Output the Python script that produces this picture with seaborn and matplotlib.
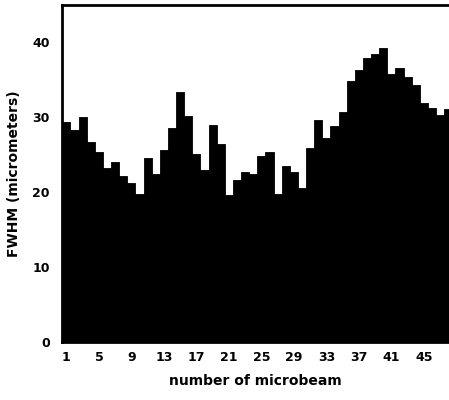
import matplotlib
matplotlib.use("Agg")
import matplotlib.pyplot as plt
import seaborn as sns
import pandas as pd

beam = list(range(1, 49))
fwhm = [29.4, 28.3, 30.0, 26.7, 25.4, 23.2, 24.0, 22.2, 21.2, 19.8,
        24.6, 22.5, 25.6, 28.6, 33.4, 30.2, 25.1, 23.0, 29.0, 26.4,
        19.6, 21.7, 22.7, 22.5, 24.9, 25.4, 19.8, 23.5, 22.7, 20.6,
        25.9, 29.7, 27.2, 28.8, 30.7, 34.9, 36.3, 37.9, 38.5, 39.2,
        35.8, 36.6, 35.4, 34.3, 31.9, 31.2, 30.3, 31.1]
xticks = list(range(1, 46, 4))
yticks = [0, 10, 20, 30, 40]

sns.set_style("white")
plt.rcParams['font.family'] = ['DejaVu Sans']
plt.rcParams['text.color'] = 'black'
plt.rcParams['axes.labelcolor'] = 'black'
plt.rcParams['xtick.color'] = 'black'
plt.rcParams['ytick.color'] = 'black'

df = pd.DataFrame({"beam": beam, "fwhm": fwhm})
fig = plt.figure(figsize=(4.49, 4.0), dpi=100)
ax = fig.add_axes([0.1388, 0.1438, 0.8612, 0.8437])
sns.barplot(data=df, x="beam", y="fwhm", native_scale=True, color="black",
            width=1.0, edgecolor="black", linewidth=0.6, saturation=1, ax=ax)
ax.set_xlim(0.5, 48.1)
ax.set_ylim(0, 45)
ax.set_xticks(xticks)
ax.set_xticklabels([str(t) for t in xticks], fontweight="bold", fontsize=9, color="black")
ax.set_yticks(yticks)
ax.set_yticklabels([str(t) for t in yticks], fontweight="bold", fontsize=9, color="black")
ax.tick_params(axis="both", length=0)
ax.tick_params(axis="x", pad=6)
ax.tick_params(axis="y", pad=9)
ax.set_xlabel("number of microbeam", fontweight="bold", fontsize=10, labelpad=7, color="black")
ax.set_ylabel("FWHM (micrometers)", fontweight="bold", fontsize=10, labelpad=8, color="black")
for s in ["top", "left", "bottom"]:
    ax.spines[s].set_visible(True)
    ax.spines[s].set_color("black")
    ax.spines[s].set_linewidth(2)
ax.spines["right"].set_visible(False)
fig.savefig("out.png", dpi=100)
